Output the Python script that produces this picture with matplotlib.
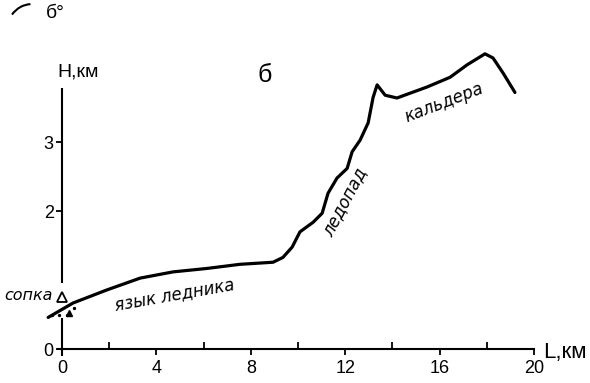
import matplotlib.pyplot as plt
from matplotlib.patches import Arc

# === Data: longitudinal profile (km along glacier, height km)
dist_km = [-0.59, 0.47, 1.91, 3.31, 4.70, 6.14, 7.54, 8.94, 9.36, 9.75, 10.08,
           10.64, 11.02, 11.27, 11.65, 12.08, 12.29, 12.63, 12.97, 13.18, 13.35,
           13.69, 14.19, 15.47, 16.44, 17.16, 17.92, 18.26, 18.69, 19.19]
height_km = [0.46, 0.67, 0.86, 1.03, 1.12, 1.17, 1.23, 1.26, 1.33, 1.48, 1.70,
             1.84, 1.97, 2.26, 2.48, 2.62, 2.86, 3.03, 3.28, 3.65, 3.83,
             3.68, 3.64, 3.80, 3.94, 4.12, 4.28, 4.22, 4.00, 3.72]

x_major = [0, 4, 8, 12, 16, 20]
x_minor = [2, 6, 10, 14, 18]
y_ticks = [0, 2, 3]

sopka = (0.0, 0.76)
vent = (0.3, 0.52)
ash_x = [-0.42, -0.12, 0.2, 0.5]
ash_y = [0.49, 0.50, 0.49, 0.59]

cond = ['Liberation Sans', 'DejaVu Sans']
ital = ['DejaVu Sans']

fig = plt.figure(figsize=(5.9, 3.83), dpi=100)
ax = fig.add_axes([0, 0, 1, 1])
ax.set_xlim(-2.63, 22.37)
ax.set_ylim(-0.49, 5.06)

ax.plot(dist_km, height_km, color='black', lw=2.3, solid_joinstyle='round',
        solid_capstyle='round', zorder=4)

# sopka + small vent
ax.plot(*sopka, marker='^', ms=7, mfc='white', mec='black', mew=1.3, zorder=5)
ax.plot(*vent, marker='^', ms=5, color='black', zorder=5)
ax.scatter(ash_x, ash_y, s=2, color='black', zorder=5)

# axes (y axis broken around the sopka)
for s in ['top', 'right']:
    ax.spines[s].set_visible(False)
ax.spines['bottom'].set_position(('data', 0))
ax.spines['bottom'].set_bounds(-0.17, 20)
ax.spines['bottom'].set_linewidth(1.5)
ax.spines['left'].set_position(('data', 0))
ax.spines['left'].set_visible(False)
ax.vlines([0, 0], [-0.1, 0.96], [0.45, 3.78], color='black', lw=1.5)

ax.set_xticks(x_major)
ax.set_xticks(x_minor, minor=True)
ax.set_yticks(y_ticks)
ax.set_xticklabels([str(v) for v in x_major], family=cond, fontsize=13)
ax.set_yticklabels([str(v) for v in y_ticks], family=cond, fontsize=13)
ax.tick_params(axis='x', which='major', direction='out', length=4, width=1.3, pad=4)
ax.tick_params(axis='x', which='minor', direction='in', length=5, width=1.3)
ax.tick_params(axis='y', direction='out', length=4, width=1.3, pad=2)

# labels
ax.text(-0.2, 4.02, 'H,км', family=cond, fontsize=14, ha='left', va='center')
ax.text(20.4, -0.05, 'L,км', family=cond, fontsize=16, ha='left', va='center')
ax.text(8.6, 3.98, 'б', family=cond, fontsize=18, ha='center', va='center')
ax.text(-0.3, 4.87, 'б°', family=cond, fontsize=14, ha='center', va='center')
ax.add_patch(Arc((-1.3, 4.55), 2.2, 0.9, theta1=95, theta2=160, color='black', lw=1.5))

ax.text(-0.4, 0.78, 'сопка', family=ital, style='italic', fontsize=11.5,
        ha='right', va='center')
ax.text(4.75, 0.78, 'язык ледника', family=ital, style='italic', fontsize=12,
        ha='center', va='center', rotation=10)
ax.text(12.0, 2.13, 'ледопад', family=ital, style='italic', fontsize=12,
        ha='center', va='center', rotation=62)
ax.text(16.2, 3.57, 'кальдера', family=ital, style='italic', fontsize=12,
        ha='center', va='center', rotation=21)

fig.savefig('out.png', dpi=100)
